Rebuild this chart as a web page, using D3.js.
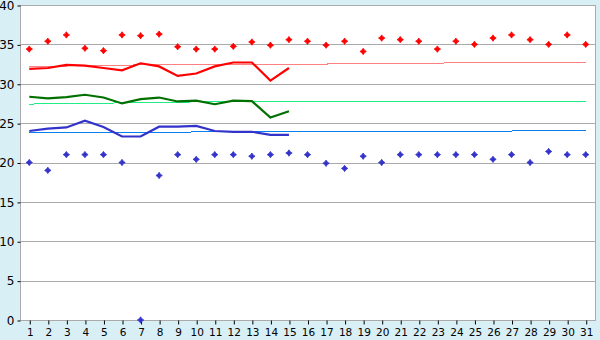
<!DOCTYPE html>
<html><head><meta charset="utf-8">
<script src="https://cdn.jsdelivr.net/npm/d3@7"></script>
<style>html,body{margin:0;padding:0;background:#d9eff6;}svg{display:block;}</style>
</head><body>
<svg id="chart" width="600" height="340"></svg>
<script>
const days = d3.range(1, 32);
const yTicks = [0, 5, 10, 15, 20, 25, 30, 35, 40];
const maxTemp = [34.4,35.4,36.2,34.5,34.2,36.2,36.1,36.3,34.7,34.4,34.4,34.75,35.3,34.9,35.6,35.4,34.9,35.4,34.1,35.8,35.6,35.4,34.4,35.4,35.0,35.8,36.2,35.6,35.0,36.2,35.0];
const minTemp = [20.0,19.0,21.0,21.0,21.0,20.0,0,18.35,21.0,20.4,21.0,21.0,20.8,21.0,21.2,21.0,19.9,19.25,20.8,20.0,21.0,21.0,21.0,21.0,21.0,20.4,21.0,20.0,21.4,21.0,21.0];
const avgMax = [31.9,32.0,32.4,32.3,32.0,31.7,32.6,32.2,31.0,31.3,32.2,32.7,32.7,30.4,32.0];
const avgMid = [28.35,28.15,28.3,28.6,28.25,27.5,28.05,28.25,27.75,27.85,27.4,27.85,27.8,25.7,26.5];
const avgMin = [24.0,24.3,24.45,25.3,24.5,23.3,23.3,24.55,24.55,24.65,24.0,23.9,23.9,23.5,23.5];
const normMax = [32.2,32.2,32.25,32.3,32.3,32.35,32.4,32.45,32.45,32.45,32.45,32.45,32.45,32.5,32.5,32.5,32.5,32.6,32.6,32.6,32.6,32.6,32.6,32.7,32.7,32.7,32.7,32.7,32.7,32.7,32.7];
const normMid = [27.4,27.5,27.5,27.5,27.5,27.6,27.6,27.6,27.65,27.7,27.75,27.75,27.75,27.75,27.75,27.75,27.75,27.75,27.75,27.75,27.75,27.75,27.75,27.75,27.75,27.75,27.75,27.75,27.75,27.75,27.75];
const normMin = [23.8,23.8,23.8,23.8,23.8,23.8,23.8,23.8,23.8,23.9,23.9,23.9,23.9,23.9,23.9,23.9,23.9,23.9,23.9,23.9,24.0,24.0,24.0,24.0,24.0,24.0,24.0,24.1,24.1,24.1,24.1];

const svg = d3.select("#chart");
const L = 20, R = 595, T = 5, B = 320;
const x = d3.scaleLinear().domain([0.5, 31.5]).range([L, R]);
const y = d3.scaleLinear().domain([0, 40]).range([B, T]);

svg.append("rect").attr("x", L).attr("y", T).attr("width", R - L).attr("height", B - T).attr("fill", "#fff");

// grid
svg.append("g").selectAll("line").data(yTicks).join("line")
  .attr("x1", L).attr("x2", R)
  .attr("y1", d => Math.round(y(d)) + 0.5).attr("y2", d => Math.round(y(d)) + 0.5)
  .attr("stroke", "#aaaaaa").attr("stroke-width", 1);
// frame
svg.append("rect").attr("x", L + 0.5).attr("y", T + 0.5).attr("width", R - L).attr("height", B - T)
  .attr("fill", "none").attr("stroke", "#aaaaaa");

// axes
const yAxis = d3.axisLeft(y).tickValues(yTicks).tickSize(3).tickPadding(3);
const gy = svg.append("g").attr("transform", `translate(${L + 0.5},0.5)`).call(yAxis);
gy.select(".domain").remove();
gy.selectAll("text").attr("font-family", "DejaVu Sans, sans-serif").attr("font-size", 12).attr("fill", "#000");
gy.selectAll("line").attr("stroke", "#000");

const xAxis = d3.axisBottom(x).tickValues(days).tickSize(4).tickPadding(4);
const gx = svg.append("g").attr("transform", `translate(0.5,${B + 0.5})`).call(xAxis);
gx.select(".domain").remove();
gx.selectAll("text").attr("font-family", "DejaVu Sans, sans-serif").attr("font-size", 10.5).attr("fill", "#000");
gx.selectAll("line").attr("stroke", "#000");

function drawLine(vals, color, w, crisp) {
  const line = d3.line().x((d, i) => x(i + 1)).y(d => y(d));
  svg.append("path").datum(vals).attr("d", line)
    .attr("fill", "none").attr("stroke", color).attr("stroke-width", w)
    .attr("shape-rendering", crisp ? "crispEdges" : "auto");
}
drawLine(normMax, "#ff8080", 1, true);
drawLine(normMid, "#22ee88", 1, true);
drawLine(normMin, "#0a7ff0", 1, true);
drawLine(avgMax, "#ff0000", 2.2, false);
drawLine(avgMid, "#007000", 2.2, false);
drawLine(avgMin, "#3333cc", 2.2, false);

const marker = "M0,-3.2L1.3,-1.3L3.2,0L1.3,1.3L0,3.2L-1.3,1.3L-3.2,0L-1.3,-1.3Z";
svg.append("g").selectAll("path").data(maxTemp).join("path")
  .attr("d", marker).attr("transform", (d, i) => `translate(${x(i + 1)},${y(d)})`)
  .attr("fill", "#ff0000").attr("stroke", "#ff0000").attr("stroke-width", 0.8);
svg.append("g").selectAll("path").data(minTemp).join("path")
  .attr("d", marker).attr("transform", (d, i) => `translate(${x(i + 1)},${y(d)})`)
  .attr("fill", "#3333cc").attr("stroke", "#3333cc").attr("stroke-width", 0.8);
</script>
</body></html>
